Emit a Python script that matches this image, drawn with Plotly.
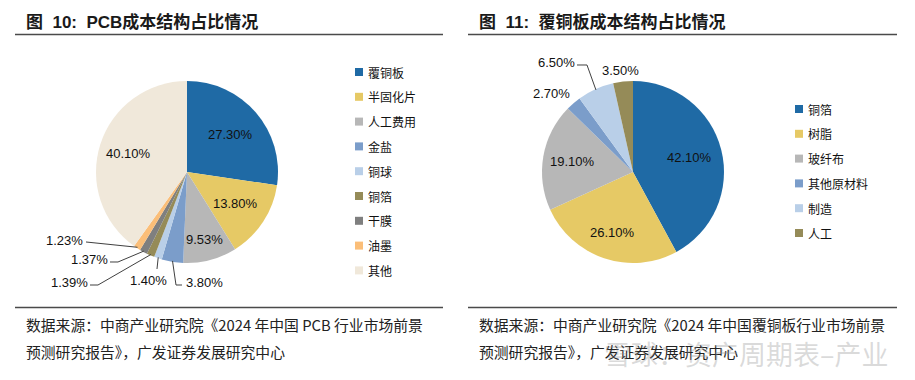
import math
import plotly.graph_objects as go

W, H = 915, 380

# ---------------- data ----------------
pcb_labels = ["覆铜板", "半固化片", "人工费用", "金盐", "铜球", "铜箔", "干膜", "油墨", "其他"]
pcb_values = [27.30, 13.80, 9.53, 3.80, 1.40, 1.39, 1.37, 1.23, 40.10]
pcb_text = ["27.30%", "13.80%", "9.53%", "3.80%", "1.40%", "1.39%", "1.37%", "1.23%", "40.10%"]

ccl_labels = ["铜箔", "树脂", "玻纤布", "其他原材料", "制造", "人工"]
ccl_values = [42.10, 26.10, 19.10, 2.70, 6.50, 3.50]
ccl_text = ["42.10%", "26.10%", "19.10%", "2.70%", "6.50%", "3.50%"]

title_left = "图\u00a0\u00a010:\u00a0\u00a0PCB成本结构占比情况"
title_right = "图\u00a0\u00a011:\u00a0\u00a0覆铜板成本结构占比情况"
source_left = ["数据来源：中商产业研究院《2024 年中国 PCB 行业市场前景",
               "预测研究报告》，广发证券发展研究中心"]
source_right = ["数据来源：中商产业研究院《2024 年中国覆铜板行业市场前景",
                "预测研究报告》，广发证券发展研究中心"]
watermark = "雪球：资产周期表–产业"

# ---------------- styles ----------------
pcb_colors = ["#1F6AA5", "#E6C965", "#B7B7B7", "#7B9DCA", "#B9CFE8",
              "#958B58", "#7F7F7F", "#FBBE78", "#F0E8DA"]
ccl_colors = ["#1F6AA5", "#E6C965", "#B7B7B7", "#7B9DCA", "#B9CFE8", "#958B58"]

CJK = "Noto Sans CJK SC"
NUM = "Liberation Sans, Arial, Noto Sans CJK SC"

# pie geometry (pixels)
L_C, L_R = (187, 172), 91
R_C, R_R = (633, 172), 91

# inside label radial fraction (None -> outside label)
pcb_frac = [0.63, 0.64, 0.77, None, None, None, None, None, 0.68]
ccl_frac = [0.64, 0.70, 0.67, None, None, None]
# outside label: (text center px, leader points px before the slice anchor)
pcb_out = {3: ((204, 282), [(182, 285), (176, 285)]),
           4: ((148, 280), [(157, 269)]),
           5: ((69, 282), [(90, 285), (98, 285)]),
           6: ((89, 259), [(110, 262), (118, 262)]),
           7: ((64, 240), [(86, 242)])}
ccl_out = {3: ((551, 93), []),
           4: ((556, 63), [(577, 65), (587, 65)]),
           5: ((620, 70), [])}


def px(x):
    return x / W


def py(y):
    return 1 - y / H


def dom(c, r):
    return dict(x=[px(c[0] - r), px(c[0] + r)], y=[py(c[1] + r), py(c[1] - r)])


fig = go.Figure()
fig.add_trace(go.Pie(labels=pcb_labels, values=pcb_values, sort=False,
                     direction="clockwise", rotation=0, domain=dom(L_C, L_R),
                     marker=dict(colors=pcb_colors, line=dict(width=0)),
                     textinfo="none", hoverinfo="label+percent", showlegend=False))
fig.add_trace(go.Pie(labels=ccl_labels, values=ccl_values, sort=False,
                     direction="clockwise", rotation=0, domain=dom(R_C, R_R),
                     marker=dict(colors=ccl_colors, line=dict(width=0)),
                     textinfo="none", hoverinfo="label+percent", showlegend=False))

annotations = []
shapes = []


def slice_point(values, i, c, r, f):
    tot = sum(values)
    before = sum(values[:i])
    th = 2 * math.pi * (before + values[i] / 2) / tot
    return c[0] + r * f * math.sin(th), c[1] - r * f * math.cos(th)


def pie_labels(values, texts, fracs, outs, c, r):
    for i, t in enumerate(texts):
        if fracs[i] is not None:
            x, y = slice_point(values, i, c, r, fracs[i])
            annotations.append(dict(x=px(x), y=py(y), xref="paper", yref="paper",
                                    text=t, showarrow=False, xanchor="center", yanchor="middle",
                                    font=dict(family=NUM, size=13, color="#111111")))
        else:
            (tx, ty), pts = outs[i]
            annotations.append(dict(x=px(tx), y=py(ty), xref="paper", yref="paper",
                                    text=t, showarrow=False, xanchor="center", yanchor="middle",
                                    font=dict(family=NUM, size=13, color="#111111")))
            if pts:
                ax, ay = slice_point(values, i, c, r, 0.99)
                allp = pts + [(ax, ay)]
                path = "M " + " L ".join(f"{px(a):.5f},{py(b):.5f}" for a, b in allp)
                shapes.append(dict(type="path", xref="paper", yref="paper", path=path,
                                   line=dict(color="#404040", width=1)))


pie_labels(pcb_values, pcb_text, pcb_frac, pcb_out, L_C, L_R)
pie_labels(ccl_values, ccl_text, ccl_frac, ccl_out, R_C, R_R)


# legends
def legend(labels, colors, x0, y0, step):
    for i, (lab, col) in enumerate(zip(labels, colors)):
        yc = y0 + i * step
        shapes.append(dict(type="rect", xref="paper", yref="paper",
                           x0=px(x0), x1=px(x0 + 8), y0=py(yc + 4), y1=py(yc - 4),
                           fillcolor=col, line=dict(width=0)))
        annotations.append(dict(x=px(x0 + 11), y=py(yc), xref="paper", yref="paper",
                                text=lab, showarrow=False, xanchor="left", yanchor="middle",
                                font=dict(family=CJK, size=12, color="#111111")))


legend(pcb_labels, pcb_colors, 355, 72, 24.8)
legend(ccl_labels, ccl_colors, 795, 109, 24.8)

# titles
for x0, t in [(24, title_left), (477, title_right)]:
    annotations.append(dict(x=px(x0), y=py(22), xref="paper", yref="paper", text=f"<b>{t}</b>",
                            showarrow=False, xanchor="left", yanchor="middle",
                            font=dict(family=NUM, size=17, color="#1a1a1a")))

# rules
for xa, xb in [(15, 443), (468, 897)]:
    for yy in (34.5, 307.5):
        shapes.append(dict(type="line", xref="paper", yref="paper", x0=px(xa), x1=px(xb),
                           y0=py(yy), y1=py(yy), line=dict(color="#4a4a4a", width=1.5)))

# sources
for x0, lines in [(24, source_left), (477, source_right)]:
    for k, ln in enumerate(lines):
        annotations.append(dict(x=px(x0), y=py(324 + 27 * k), xref="paper", yref="paper", text=ln,
                                showarrow=False, xanchor="left", yanchor="middle",
                                font=dict(family=CJK, size=14.8, color="#222222")))

# watermark
annotations.append(dict(x=px(890), y=py(353), xref="paper", yref="paper", text=watermark,
                        showarrow=False, xanchor="right", yanchor="middle",
                        font=dict(family=CJK, size=27, color="rgba(150,150,150,0.35)")))

fig.update_layout(width=W, height=H, margin=dict(l=0, r=0, t=0, b=0),
                  paper_bgcolor="white", plot_bgcolor="white",
                  annotations=annotations, shapes=shapes, showlegend=False)

fig.write_html("out.html", config={"displayModeBar": False},
               post_script="document.body.style.margin='0';")
